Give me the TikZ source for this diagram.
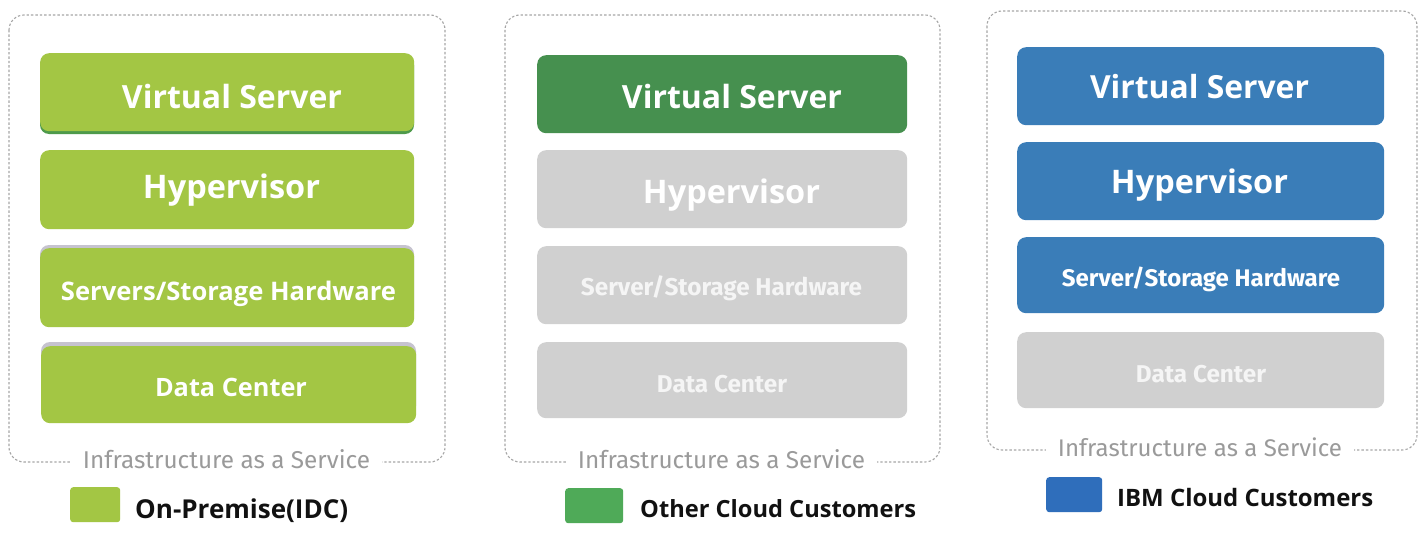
\documentclass[tikz,border=0pt]{standalone}
\usepackage{fontspec}
\setmainfont{Open Sans}
\newfontfamily\dinfont{Fira Sans}
\usepackage{graphicx}
\newcommand{\fitw}[2]{\resizebox{#1}{!}{#2}}
\definecolor{lgreen}{HTML}{A3C644}
\definecolor{lgshadow}{HTML}{4E9A4B}
\definecolor{topshadow}{HTML}{C6C3CF}
\definecolor{dgreen}{HTML}{46904F}
\definecolor{lgray}{HTML}{D0D0D0}
\definecolor{ibmblue}{HTML}{3A7DB8}
\definecolor{leggreen}{HTML}{4FAA58}
\definecolor{legblue}{HTML}{2F6EBB}
\definecolor{dashgray}{HTML}{A6A6A6}
\definecolor{labgray}{HTML}{9A9A9A}
\definecolor{txtblack}{HTML}{111111}
\tikzset{
  panel/.style={draw=dashgray, line width=1.1pt, dash pattern=on 2.4pt off 2pt, rounded corners=15pt},
  layer/.style={rounded corners=9pt, inner sep=0pt, anchor=north west},
  layertext/.style={anchor=base, text=white, inner sep=0pt},
  infra/.style={anchor=base, text=labgray, fill=white, inner xsep=12pt, inner ysep=2pt, font=\dinfont},
  legsq/.style={rounded corners=3pt, inner sep=0pt, anchor=north west},
  legtext/.style={anchor=base west, text=txtblack, inner sep=0pt, font=\bfseries}
}
\begin{document}
\begin{tikzpicture}[x=1pt,y=-1pt]
\useasboundingbox (0,0) rectangle (1426,546);
\fill[white] (0,0) rectangle (1426,546);

% ---------- Panel 1 ----------
\draw[panel] (9,15) rectangle (445,462);
\fill[lgshadow, rounded corners=9pt] (40,56) rectangle (414,134);
\fill[topshadow, rounded corners=9pt] (40,245) rectangle (414,320);
\fill[topshadow, rounded corners=9pt] (41,342) rectangle (416,415);
\node[layer, fill=lgreen, minimum width=374pt, minimum height=78pt] (p1vs) at (40,53) {};
\node[layer, fill=lgreen, minimum width=374pt, minimum height=79pt] (p1hy) at (40,150) {};
\node[layer, fill=lgreen, minimum width=374pt, minimum height=79pt] (p1ss) at (40,248) {};
\node[layer, fill=lgreen, minimum width=375pt, minimum height=77pt] (p1dc) at (41,346) {};
\node[layertext] (p1vst) at (232,108) {\fitw{220pt}{\bfseries Virtual Server}};
\node[layertext] (p1hyt) at (231.5,198) {\fitw{177pt}{\bfseries Hypervisor}};
\node[layertext] (p1sst) at (228.5,300) {\fitw{335pt}{\bfseries Servers/Storage Hardware}};
\node[layertext] (p1dct) at (231,396) {\fitw{152pt}{\bfseries Data Center}};
\node[infra] (p1lab) at (226.5,468) {\fitw{287pt}{Infrastructure as a Service}};
\node[legsq, fill=lgreen, minimum width=50pt, minimum height=35pt] (p1sq) at (70,487) {};
\node[legtext] (p1leg) at (135,518) {\fitw{213pt}{On-Premise(IDC)}};

% ---------- Panel 2 ----------
\draw[panel] (505,15) rectangle (940,462);
\node[layer, fill=dgreen, minimum width=370pt, minimum height=78pt] (p2vs) at (537,55) {};
\node[layer, fill=lgray, minimum width=370pt, minimum height=78pt] (p2hy) at (537,150) {};
\node[layer, fill=lgray, minimum width=370pt, minimum height=78pt] (p2ss) at (537,246) {};
\node[layer, fill=lgray, minimum width=370pt, minimum height=76pt] (p2dc) at (537,342) {};
\node[layertext] (p2vst) at (732,108) {\fitw{220pt}{\bfseries Virtual Server}};
\node[layertext] (p2hyt) at (731.5,203) {\fitw{177pt}{\bfseries Hypervisor}};
\node[layertext, text=white!96!black] (p2sst) at (721.5,295) {\fitw{281pt}{\dinfont\bfseries Server/Storage Hardware}};
\node[layertext, text=white!96!black] (p2dct) at (722,392) {\fitw{130pt}{\dinfont\bfseries Data Center}};
\node[infra] (p2lab) at (721.5,468) {\fitw{287pt}{Infrastructure as a Service}};
\node[legsq, fill=leggreen, minimum width=58pt, minimum height=35pt] (p2sq) at (565,488) {};
\node[legtext] (p2leg) at (640,517) {\fitw{276pt}{Other Cloud Customers}};

% ---------- Panel 3 ----------
\draw[panel] (987,11) rectangle (1417,450);
\node[layer, fill=ibmblue, minimum width=367pt, minimum height=78pt] (p3vs) at (1017,47) {};
\node[layer, fill=ibmblue, minimum width=367pt, minimum height=78pt] (p3hy) at (1017,142) {};
\node[layer, fill=ibmblue, minimum width=367pt, minimum height=76pt] (p3ss) at (1017,237) {};
\node[layer, fill=lgray, minimum width=367pt, minimum height=76pt] (p3dc) at (1017,332) {};
\node[layertext] (p3vst) at (1199.5,98) {\fitw{219pt}{\bfseries Virtual Server}};
\node[layertext] (p3hyt) at (1199.5,193) {\fitw{177pt}{\bfseries Hypervisor}};
\node[layertext] (p3sst) at (1201,286) {\fitw{278pt}{\dinfont\bfseries Server/Storage Hardware}};
\node[layertext, text=white!96!black] (p3dct) at (1201,382) {\fitw{130pt}{\dinfont\bfseries Data Center}};
\node[infra] (p3lab) at (1200,456) {\fitw{284pt}{Infrastructure as a Service}};
\node[legsq, fill=legblue, minimum width=56pt, minimum height=35pt] (p3sq) at (1046,477) {};
\node[legtext] (p3leg) at (1117,506) {\fitw{256pt}{IBM Cloud Customers}};
\end{tikzpicture}
\end{document}
